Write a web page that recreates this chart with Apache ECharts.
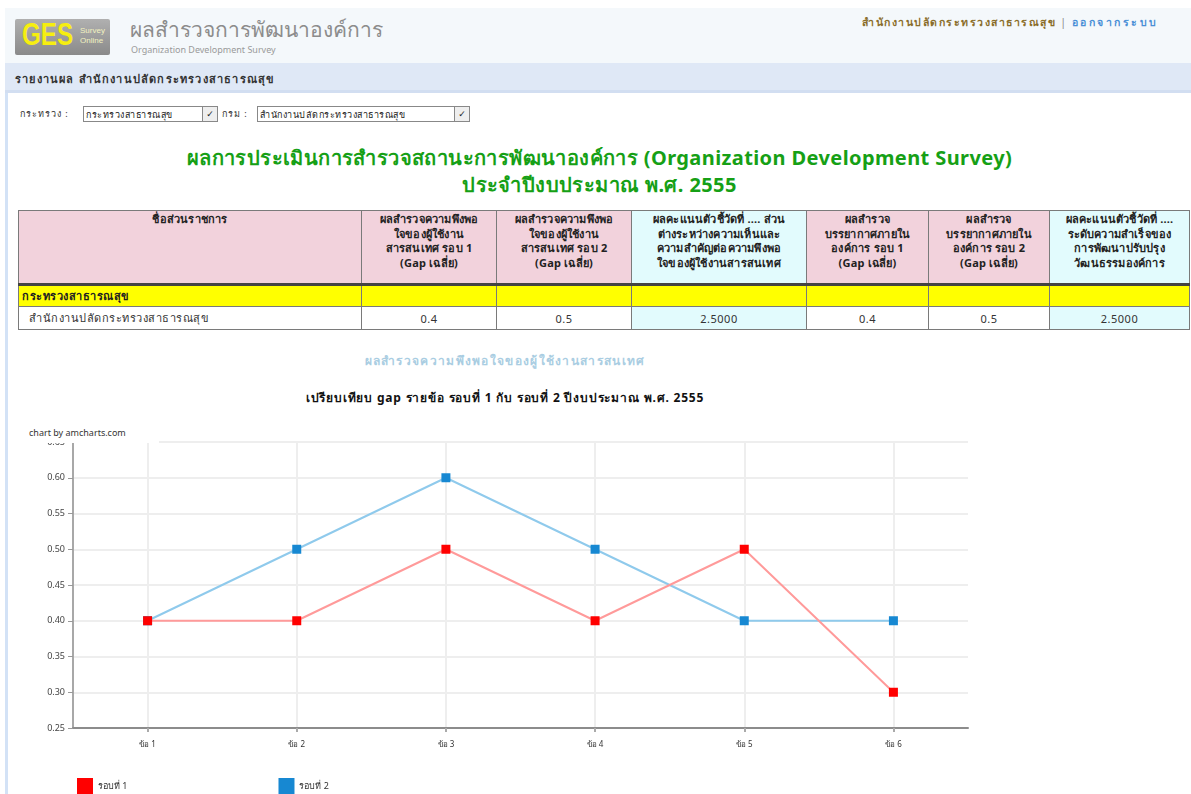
<!DOCTYPE html>
<html>
<head>
<meta charset="utf-8">
<script src="https://cdn.jsdelivr.net/npm/echarts@6/dist/echarts.min.js"></script>
<style>
  html, body { margin:0; padding:0; background:#fff; width:1191px; height:794px; overflow:hidden;
    font-family: Tahoma, "Noto Sans", "DejaVu Sans", sans-serif; }
  .abs { position:absolute; }
  table.t { position:absolute; left:18px; top:210px; width:1172px; border-collapse:collapse; font-size:11px; }
  table.t td { border:1px solid #7a7a7a; padding:1px 3px; }
  .hd td { background:#f2d2dc; font-weight:bold; text-align:center; vertical-align:top; color:#222; line-height:14.5px; height:70px; letter-spacing:0.2px; white-space:nowrap; padding-top:3px; }
  .hd td.cy { background:#e2fbfd; }
  .yl td { background:#ffff00; border-top:3px solid #444 !important; height:17px; font-weight:bold; color:#222; letter-spacing:0.5px; }
  .dr td { height:20px; text-align:center; color:#333; letter-spacing:0.5px; }
  .dr td.cy { background:#e2fbfd; }
  .sel { position:absolute; top:106px; height:16px; border:1px solid #888; background:#fff; font-size:9px; line-height:16px; padding-left:2px; color:#222; box-sizing:border-box; letter-spacing:0.5px; }
  .sel span.ar { position:absolute; right:0; top:0; width:14px; height:14px; border-left:1px solid #888; text-align:center; font-size:9px; line-height:14px; background:#eee; letter-spacing:0; }
</style>
</head>
<body>
<!-- header -->
<div class="abs" style="left:5px;top:8px;width:1186px;height:55px;background:#f4f8fb;"></div>
<div class="abs" style="left:5px;top:63px;width:1186px;height:27px;background:#dfe8f6;border-bottom:3px solid #d2def1;"></div>
<div class="abs" style="left:5px;top:93px;width:3px;height:701px;background:#d3e2f6;"></div>
<div class="abs" style="left:15px;top:19px;width:95px;height:36px;background:linear-gradient(#b0b0b0,#8a8a8a);border-radius:2px;"></div>
<div class="abs" style="left:22px;top:17px;font:bold 31px Arial,sans-serif;color:#f6ee10;transform:scaleX(0.78);transform-origin:left top;">GES</div>
<div class="abs" style="left:80px;top:26px;font:8px Arial,sans-serif;color:#f2f2c0;line-height:10px;">Survey<br>Online</div>
<div class="abs" style="left:130px;top:13px;font-size:21px;color:#8c8c8c;">ผลสำรวจการพัฒนาองค์การ</div>
<div class="abs" style="left:131px;top:43px;font-size:9px;color:#9a9a9a;">Organization Development Survey</div>
<div class="abs" style="left:862px;top:14px;font-size:10.5px;font-weight:bold;color:#8a6d2a;white-space:nowrap;letter-spacing:1.5px;">สำนักงานปลัดกระทรวงสาธารณสุข <span style="color:#888;font-weight:normal;">|</span> <span style="color:#4a8fd6;letter-spacing:2.5px;">ออกจากระบบ</span></div>
<div class="abs" style="left:15px;top:70px;font-size:11px;font-weight:bold;color:#333;letter-spacing:1.2px;">รายงานผล สำนักงานปลัดกระทรวงสาธารณสุข</div>

<!-- selects -->
<div class="abs" style="left:20px;top:107px;font-size:9px;color:#333;letter-spacing:1px;">กระทรวง :</div>
<div class="sel" style="left:83px;width:135px;">กระทรวงสาธารณสุข<span class="ar">&#10003;</span></div>
<div class="abs" style="left:222px;top:107px;font-size:9px;color:#333;letter-spacing:1px;">กรม :</div>
<div class="sel" style="left:257px;width:213px;">สำนักงานปลัดกระทรวงสาธารณสุข<span class="ar">&#10003;</span></div>

<!-- green title -->
<div class="abs" style="left:8px;top:144px;width:1183px;text-align:center;font-size:20px;font-weight:bold;color:#16a016;line-height:27px;letter-spacing:0.4px;">ผลการประเมินการสำรวจสถานะการพัฒนาองค์การ (Organization Development Survey)<br>ประจำปีงบประมาณ พ.ศ. 2555</div>

<!-- table -->
<table class="t">
  <tr class="hd">
    <td style="width:336px;">ชื่อส่วนราชการ</td>
    <td style="width:128px;">ผลสำรวจความพึงพอ<br>ใจของผู้ใช้งาน<br>สารสนเทศ รอบ 1<br>(Gap เฉลี่ย)</td>
    <td style="width:128px;">ผลสำรวจความพึงพอ<br>ใจของผู้ใช้งาน<br>สารสนเทศ รอบ 2<br>(Gap เฉลี่ย)</td>
    <td class="cy" style="width:168px;">ผลคะแนนตัวชี้วัดที่ .... ส่วน<br>ต่างระหว่างความเห็นและ<br>ความสำคัญต่อความพึงพอ<br>ใจของผู้ใช้งานสารสนเทศ</td>
    <td style="width:115px;">ผลสำรวจ<br>บรรยากาศภายใน<br>องค์การ รอบ 1<br>(Gap เฉลี่ย)</td>
    <td style="width:114px;">ผลสำรวจ<br>บรรยากาศภายใน<br>องค์การ รอบ 2<br>(Gap เฉลี่ย)</td>
    <td class="cy">ผลคะแนนตัวชี้วัดที่ ....<br>ระดับความสำเร็จของ<br>การพัฒนาปรับปรุง<br>วัฒนธรรมองค์การ</td>
  </tr>
  <tr class="yl"><td>กระทรวงสาธารณสุข</td><td></td><td></td><td></td><td></td><td></td><td></td></tr>
  <tr class="dr">
    <td style="text-align:left;padding-left:10px;">สำนักงานปลัดกระทรวงสาธารณสุข</td>
    <td>0.4</td><td>0.5</td><td class="cy">2.5000</td><td>0.4</td><td>0.5</td><td class="cy">2.5000</td>
  </tr>
</table>

<div class="abs" style="left:0;top:351px;width:1010px;text-align:center;font-size:12px;font-weight:bold;color:#a9cde2;letter-spacing:1.3px;">ผลสำรวจความพึงพอใจของผู้ใช้งานสารสนเทศ</div>
<div class="abs" style="left:0;top:388px;width:1010px;text-align:center;font-size:12px;font-weight:bold;color:#111;letter-spacing:0.8px;">เปรียบเทียบ gap รายข้อ รอบที่ 1 กับ รอบที่ 2 ปีงบประมาณ พ.ศ. 2555</div>

<div id="chart" class="abs" style="left:0;top:425px;width:1000px;height:369px;"></div>
<div class="abs" style="left:26px;top:426px;width:130px;height:17px;background:#fff;font-size:9px;color:#333;line-height:14px;padding-left:3px;">chart by amcharts.com</div>

<script>
const categories = ['ข้อ 1', 'ข้อ 2', 'ข้อ 3', 'ข้อ 4', 'ข้อ 5', 'ข้อ 6'];
const round1 = [0.4, 0.4, 0.5, 0.4, 0.5, 0.3];
const round2 = [0.4, 0.5, 0.6, 0.5, 0.4, 0.4];
const seriesNames = ['รอบที่ 1', 'รอบที่ 2'];

const chart = echarts.init(document.getElementById('chart'));
const fontFamily = 'Tahoma, "Noto Sans", "DejaVu Sans", sans-serif';
chart.setOption({
  animation: false,
  textStyle: { fontFamily: fontFamily },
  grid: { left: 73, top: 17, width: 895, height: 286, containLabel: false },
  legend: {
    left: 72, top: 348, icon: 'rect', itemWidth: 16, itemHeight: 16, itemGap: 151,
    textStyle: { fontSize: 9, color: '#333' },
    data: seriesNames
  },
  xAxis: {
    type: 'category', data: categories, boundaryGap: true,
    axisLine: { lineStyle: { color: '#8c8c8c', width: 2 } },
    axisTick: { show: true, alignWithLabel: true, length: 4, lineStyle: { color: '#aaa', width: 2 } },
    axisLabel: { fontSize: 8, color: '#333', margin: 13 },
    splitLine: { show: true, alignWithLabel: true, lineStyle: { color: '#eeeeee', width: 2 } }
  },
  yAxis: {
    type: 'value', min: 0.25, max: 0.65, interval: 0.05,
    axisLine: { show: true, lineStyle: { color: '#a8a8a8', width: 2 } },
    axisTick: { show: true, length: 5, lineStyle: { color: '#999' } },
    axisLabel: { fontSize: 9, color: '#444', margin: 8, formatter: v => v.toFixed(2) },
    splitLine: { show: true, lineStyle: { color: '#eeeeee', width: 2 } }
  },
  series: [
    {
      name: seriesNames[0], type: 'line', data: round1,
      symbol: 'rect', symbolSize: 9, z: 3,
      itemStyle: { color: '#ff0000' },
      lineStyle: { color: '#ff9a9a', width: 2 }
    },
    {
      name: seriesNames[1], type: 'line', data: round2,
      symbol: 'rect', symbolSize: 9, z: 2,
      itemStyle: { color: '#1788d2' },
      lineStyle: { color: '#8fcaec', width: 2 }
    }
  ]
});
</script>
</body>
</html>
